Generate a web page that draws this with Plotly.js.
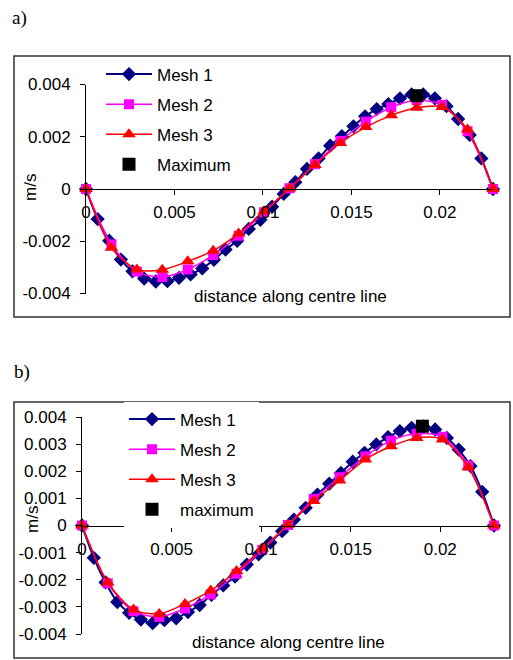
<!DOCTYPE html>
<html>
<head>
<meta charset="utf-8">
<script src="https://cdn.plot.ly/plotly-3.0.1.min.js"></script>
<style>html,body{margin:0;padding:0;background:#fff;}#chart{width:513px;height:660px;}</style>
</head>
<body>
<div id="chart"></div>
<script>
// ---------- data ----------
const mesh1X = [0, 0.000657, 0.001314, 0.001971, 0.002629, 0.003286, 0.003943, 0.0046, 0.005257, 0.005914,
  0.006571, 0.007229, 0.007886, 0.008543, 0.0092, 0.009857, 0.010514, 0.011171, 0.011829, 0.012486,
  0.013143, 0.0138, 0.014457, 0.015114, 0.015771, 0.016429, 0.017086, 0.017743, 0.0184, 0.019057,
  0.019714, 0.020371, 0.021029, 0.021686, 0.022343, 0.023];
const meshCoarseX = [0, 0.0014375, 0.002875, 0.0043125, 0.00575, 0.0071875, 0.008625, 0.0100625, 0.0115,
  0.0129375, 0.014375, 0.0158125, 0.01725, 0.0186875, 0.020125, 0.0215625, 0.023];

// chart a)
const aMesh1 = [0, -0.00115, -0.00198, -0.0027, -0.00315, -0.00343, -0.00354, -0.00353, -0.0034, -0.00327,
  -0.00304, -0.00271, -0.00232, -0.00198, -0.00153, -0.00118, -0.00068, -0.00019, 0.00026, 0.00077,
  0.00117, 0.00166, 0.00202, 0.0024, 0.00278, 0.00306, 0.00325, 0.00347, 0.00362, 0.00362,
  0.00347, 0.00317, 0.00268, 0.00207, 0.00117, 0];
const aMesh2 = [0, -0.00212, -0.00316, -0.00337, -0.00308, -0.00253, -0.00179, -0.00089, 0.00003,
  0.00095, 0.00184, 0.00258, 0.00313, 0.0034, 0.00322, 0.00221, 0];
const aMesh3 = [0, -0.00225, -0.00308, -0.00309, -0.00277, -0.00236, -0.0017, -0.00085, 0.00002,
  0.00092, 0.00176, 0.00237, 0.00282, 0.00311, 0.00314, 0.00228, 0];
const aMaxX = [0.0187];
const aMaxY = [0.00357];

// chart b)
const bMesh1 = [0, -0.00119, -0.0021, -0.00282, -0.00322, -0.00347, -0.0036, -0.00349, -0.00342, -0.00319,
  -0.00293, -0.00256, -0.00221, -0.00188, -0.00144, -0.00106, -0.00063, -0.00021, 0.00022, 0.00065,
  0.00114, 0.00154, 0.00194, 0.00235, 0.00268, 0.00299, 0.00326, 0.00348, 0.0036, 0.00365,
  0.00354, 0.00323, 0.0028, 0.00219, 0.00124, 0];
const bMesh2 = [0, -0.00213, -0.00316, -0.00337, -0.00306, -0.00254, -0.00178, -0.0009, 0.00002,
  0.00098, 0.00178, 0.00255, 0.00313, 0.00338, 0.00327, 0.00221, 0];
const bMesh3 = [0, -0.0021, -0.0031, -0.00326, -0.00289, -0.0024, -0.00168, -0.00085, 0.00003,
  0.0009, 0.00166, 0.00243, 0.00292, 0.00323, 0.00317, 0.00215, 0];
const bMaxX = [0.019];
const bMaxY = [0.00366];

// ticks
const xTickVals = [0, 0.005, 0.01, 0.015, 0.02];
const xTickText = ['0', '0.005', '0.01', '0.015', '0.02'];
const aYTickVals = [0.004, 0.002, 0, -0.002, -0.004];
const aYTickText = ['0.004', '0.002', '0', '-0.002', '-0.004'];
const bYTickVals = [0.004, 0.003, 0.002, 0.001, 0, -0.001, -0.002, -0.003, -0.004];
const bYTickText = ['0.004', '0.003', '0.002', '0.001', '0', '-0.001', '-0.002', '-0.003', '-0.004'];

// ---------- layout helpers ----------
const W = 513, H = 660;
const fx = p => p / W;
const fy = p => 1 - p / H;
const SANS = 'Liberation Sans, Arial, sans-serif';
const SERIF = 'Liberation Serif, Times New Roman, serif';
const FS = 17;

function series(x, y, name, color, sym, size, lw, xa, ya, leg, grp) {
  return {
    x: x, y: y, name: name, type: 'scatter', mode: 'lines+markers',
    xaxis: xa, yaxis: ya, legend: leg, legendgroup: grp,
    line: {color: color, width: lw, shape: 'spline', smoothing: 0.8},
    marker: {color: color, symbol: sym, size: size, line: {width: 0}},
    cliponaxis: false
  };
}
function maxPt(x, y, name, xa, ya, leg, grp) {
  return {
    x: x, y: y, name: name, type: 'scatter', mode: 'markers',
    xaxis: xa, yaxis: ya, legend: leg, legendgroup: grp,
    marker: {color: '#000000', symbol: 'square', size: 13, line: {width: 0}},
    cliponaxis: false
  };
}

const traces = [
  series(mesh1X, aMesh1, 'Mesh 1', '#000080', 'diamond', 11, 2, 'x', 'y', 'legend', 'a1'),
  series(meshCoarseX, aMesh2, 'Mesh 2', '#FF00FF', 'square', 10, 1.5, 'x', 'y', 'legend', 'a2'),
  series(meshCoarseX, aMesh3, 'Mesh 3', '#FF0000', 'triangle-up', 12, 1.5, 'x', 'y', 'legend', 'a3'),
  maxPt(aMaxX, aMaxY, 'Maximum', 'x', 'y', 'legend', 'a4'),
  series(mesh1X, bMesh1, 'Mesh 1', '#000080', 'diamond', 11, 2, 'x2', 'y2', 'legend2', 'b1'),
  series(meshCoarseX, bMesh2, 'Mesh 2', '#FF00FF', 'square', 10, 1.5, 'x2', 'y2', 'legend2', 'b2'),
  series(meshCoarseX, bMesh3, 'Mesh 3', '#FF0000', 'triangle-up', 12, 1.5, 'x2', 'y2', 'legend2', 'b3'),
  maxPt(bMaxX, bMaxY, 'maximum', 'x2', 'y2', 'legend2', 'b4')
];

const aYDom = [fy(293.5), fy(84.5)];
const bYDom = [fy(634), fy(417)];
const tickFont = {family: SANS, size: FS, color: '#000'};

function xAxis(dom, ydom) {
  return {
    domain: dom, range: [0, 0.023], anchor: 'free', position: (ydom[0] + ydom[1]) / 2,
    tickmode: 'array', tickvals: xTickVals, ticktext: xTickText,
    ticks: 'outside', ticklen: 5, tickcolor: '#000', tickwidth: 1, ticklabelstandoff: 3,
    showline: true, linecolor: '#000', linewidth: 1,
    showgrid: false, zeroline: false, tickfont: tickFont, fixedrange: true
  };
}
function yAxis(dom, anchor, vals, text) {
  return {
    domain: dom, range: [-0.004, 0.004], anchor: anchor, side: 'left',
    tickmode: 'array', tickvals: vals, ticktext: text,
    ticks: 'outside', ticklen: 5, tickcolor: '#000', tickwidth: 1, ticklabelstandoff: 6,
    showline: true, linecolor: '#000', linewidth: 1,
    showgrid: false, zeroline: false, tickfont: tickFont, fixedrange: true
  };
}

const legendCommon = {
  xanchor: 'left', yanchor: 'top', bgcolor: '#ffffff', borderwidth: 0,
  font: {family: SANS, size: FS, color: '#000'}, tracegroupgap: 5, itemwidth: 46,
  traceorder: 'grouped'
};

const layout = {
  width: W, height: H,
  margin: {l: 0, r: 0, t: 0, b: 0},
  paper_bgcolor: '#fff', plot_bgcolor: 'rgba(0,0,0,0)',
  xaxis: xAxis([fx(86), fx(493)], aYDom),
  yaxis: yAxis(aYDom, 'x', aYTickVals, aYTickText),
  xaxis2: xAxis([fx(82), fx(494)], bYDom),
  yaxis2: yAxis(bYDom, 'x2', bYTickVals, bYTickText),
  legend: Object.assign({}, legendCommon, {x: fx(101), y: fy(56.5)}),
  legend2: Object.assign({}, legendCommon, {x: fx(124), y: fy(401.5)}),
  showlegend: true,
  shapes: [
    {type: 'rect', xref: 'paper', yref: 'paper', x0: fx(14), x1: fx(510), y0: fy(317), y1: fy(56),
     line: {color: '#333', width: 1.5}, layer: 'below'},
    {type: 'rect', xref: 'paper', yref: 'paper', x0: fx(14), x1: fx(510), y0: fy(658), y1: fy(402),
     line: {color: '#333', width: 1.5}, layer: 'below'}
  ],
  annotations: [
    {text: 'a)', xref: 'paper', yref: 'paper', x: fx(10), y: fy(18), xanchor: 'left', yanchor: 'middle',
     showarrow: false, font: {family: SERIF, size: 19, color: '#000'}},
    {text: 'b)', xref: 'paper', yref: 'paper', x: fx(12), y: fy(372), xanchor: 'left', yanchor: 'middle',
     showarrow: false, font: {family: SERIF, size: 19, color: '#000'}},
    {text: 'm/s', xref: 'paper', yref: 'paper', x: fx(30), y: fy(188), textangle: -90,
     xanchor: 'center', yanchor: 'middle', showarrow: false, font: {family: SANS, size: FS, color: '#000'}},
    {text: 'm/s', xref: 'paper', yref: 'paper', x: fx(32), y: fy(520), textangle: -90,
     xanchor: 'center', yanchor: 'middle', showarrow: false, font: {family: SANS, size: FS, color: '#000'}},
    {text: 'distance along centre line', xref: 'paper', yref: 'paper', x: fx(290), y: fy(297),
     xanchor: 'center', yanchor: 'middle', showarrow: false, font: {family: SANS, size: FS, color: '#000'}},
    {text: 'distance along centre line', xref: 'paper', yref: 'paper', x: fx(288), y: fy(642),
     xanchor: 'center', yanchor: 'middle', showarrow: false, font: {family: SANS, size: FS, color: '#000'}}
  ]
};

Plotly.newPlot('chart', traces, layout, {displayModeBar: false, staticPlot: true});
</script>
</body>
</html>
